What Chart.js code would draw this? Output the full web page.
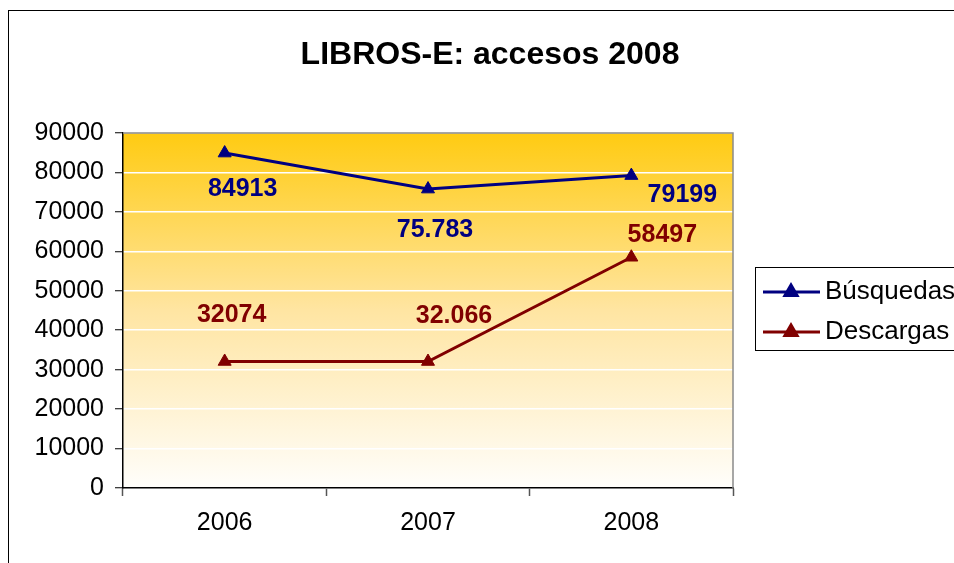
<!DOCTYPE html>
<html>
<head>
<meta charset="utf-8">
<script src="https://cdn.jsdelivr.net/npm/chart.js@4.4.1/dist/chart.umd.min.js"></script>
<style>
  body { margin: 0; background: #fff; }
  #wrap { width: 954px; height: 563px; }
</style>
</head>
<body>
<div id="wrap"><canvas id="chart" width="954" height="563"></canvas></div>
<script>
const title = 'LIBROS-E: accesos 2008';
const years = ['2006', '2007', '2008'];
const busquedas = [84913, 75783, 79199];
const descargas = [32074, 32066, 58497];
// labels as they were typed on the original chart
const busquedasText = ['84913', '75.783', '79199'];
const descargasText = ['32074', '32.066', '58497'];
const yMax = 90000;
const yStep = 10000;

const FONT = '"Liberation Sans", Arial, sans-serif';
const BLUE = '#000080';
const RED = '#800000';

// where each value label sits relative to its point
const labelOffsets = [
  [[18, 34], [7, 39], [51, 17]],
  [[7, -48], [26, -48], [31, -24]]
];

const decor = {
  id: 'decor',
  beforeDraw(chart) {
    const { ctx, chartArea: a } = chart;
    ctx.save();
    ctx.fillStyle = '#fff';
    ctx.fillRect(0, 0, chart.width, chart.height);
    const g = ctx.createLinearGradient(0, a.top, 0, a.bottom);
    g.addColorStop(0, '#FFCB12');
    g.addColorStop(0.5, '#FFE5A2');
    g.addColorStop(1, '#FFFEFB');
    ctx.fillStyle = g;
    ctx.fillRect(a.left, a.top, a.right - a.left, a.bottom - a.top);
    ctx.restore();
  },
  beforeDatasetsDraw(chart) {
    const { ctx, chartArea: a } = chart;
    ctx.save();
    ctx.strokeStyle = '#8a8a8a';
    ctx.lineWidth = 1.5;
    ctx.beginPath();
    ctx.moveTo(a.left, a.top);
    ctx.lineTo(a.right, a.top);
    ctx.lineTo(a.right, a.bottom);
    ctx.stroke();
    ctx.restore();
  },
  afterDatasetsDraw(chart) {
    const { ctx } = chart;
    ctx.save();
    ctx.font = 'bold 25px ' + FONT;
    ctx.textAlign = 'center';
    ctx.textBaseline = 'alphabetic';
    const texts = [busquedasText, descargasText];
    chart.data.datasets.forEach((ds, i) => {
      ctx.fillStyle = ds.borderColor;
      chart.getDatasetMeta(i).data.forEach((pt, j) => {
        const [dx, dy] = labelOffsets[i][j];
        ctx.fillText(texts[i][j], pt.x + dx, pt.y + dy + 9);
      });
    });
    ctx.restore();
  },
  afterDraw(chart) {
    const { ctx } = chart;
    ctx.save();
    // outer frame
    ctx.strokeStyle = '#000';
    ctx.lineWidth = 1;
    ctx.strokeRect(8.5, 10.5, 1000, 600);
    // title
    ctx.fillStyle = '#000';
    ctx.font = 'bold 32px ' + FONT;
    ctx.textAlign = 'center';
    ctx.fillText(title, 490, 64);
    // legend
    ctx.fillStyle = '#fff';
    ctx.fillRect(755.5, 267.5, 250, 83);
    ctx.strokeStyle = '#000';
    ctx.strokeRect(755.5, 267.5, 250, 83);
    ctx.font = '26px ' + FONT;
    ctx.textAlign = 'left';
    chart.data.datasets.forEach((ds, i) => {
      const y = 292 + i * 40;
      ctx.strokeStyle = ds.borderColor;
      ctx.lineWidth = 3;
      ctx.beginPath();
      ctx.moveTo(763, y);
      ctx.lineTo(820, y);
      ctx.stroke();
      ctx.fillStyle = ds.borderColor;
      Chart.helpers.drawPoint(ctx, { pointStyle: 'triangle', radius: 7, borderWidth: 1 }, 791, y);
      ctx.fillStyle = '#000';
      ctx.fillText(ds.label, 825, y + 7);
    });
    ctx.restore();
  }
};

function lineStyle(color) {
  return {
    borderColor: color,
    backgroundColor: color,
    pointBackgroundColor: color,
    pointBorderColor: color,
    borderWidth: 3,
    pointStyle: 'triangle',
    pointRadius: 7.5,
    pointBorderWidth: 1,
    tension: 0
  };
}

new Chart(document.getElementById('chart'), {
  type: 'line',
  data: {
    labels: years,
    datasets: [
      Object.assign({ label: 'Búsquedas', data: busquedas }, lineStyle(BLUE)),
      Object.assign({ label: 'Descargas', data: descargas }, lineStyle(RED))
    ]
  },
  options: {
    responsive: false,
    animation: false,
    layout: { padding: { top: 133, right: 221, bottom: 0, left: 0 } },
    plugins: {
      legend: { display: false },
      title: { display: false },
      tooltip: { enabled: false }
    },
    scales: {
      x: {
        offset: true,
        grid: { offset: true, drawOnChartArea: false, tickLength: 8, tickColor: '#555', tickWidth: 1.5 },
        border: { color: '#000', width: 1.5 },
        ticks: { color: '#000', font: { family: FONT, size: 25 }, padding: 12, maxRotation: 0 },
        afterFit: (s) => { s.height = 75; }
      },
      y: {
        min: 0,
        max: yMax,
        grid: { color: '#fff', lineWidth: 1.5, tickLength: 8, tickColor: '#000', tickWidth: 1 },
        border: { color: '#000', width: 1.5 },
        ticks: {
          stepSize: yStep,
          color: '#000',
          font: { family: FONT, size: 25 },
          padding: 11,
          callback: (v) => String(v)
        },
        afterFit: (s) => { s.width = 123; }
      }
    }
  },
  plugins: [decor]
});
</script>
</body>
</html>
